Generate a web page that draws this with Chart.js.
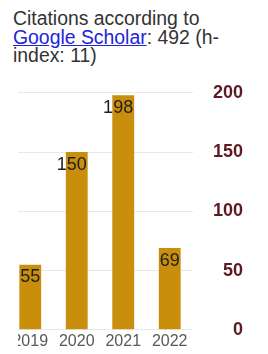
<!DOCTYPE html>
<html><head><meta charset="utf-8">
<script src="https://cdn.jsdelivr.net/npm/chart.js@4.4.0/dist/chart.umd.min.js"></script>
<style>
html,body{margin:0;padding:0;background:#fff;width:268px;height:354px;overflow:hidden;}
#title{position:absolute;left:13px;top:9px;font-family:"Liberation Sans",Arial,sans-serif;font-size:19.4px;line-height:18.5px;color:#333;white-space:nowrap;}
#title a{color:#2323d8;text-decoration:underline;}
#clip{position:absolute;left:18px;top:0;width:250px;height:354px;overflow:hidden;}
#wrap{position:absolute;left:-11px;top:72px;width:236px;height:281px;}
</style></head>
<body>
<div id="title">Citations according to<br><a href="#">Google Scholar</a>: 492 (h-<br>index: 11)</div>
<div id="clip"><div id="wrap"><canvas id="c"></canvas></div></div>
<script>
const years = ["2019", "2020", "2021", "2022"];
const citations = [55, 150, 198, 69];
const yTicks = [0, 50, 100, 150, 200];

const barLabels = {
  id: 'barLabels',
  afterDatasetsDraw(chart) {
    const ctx = chart.ctx;
    const meta = chart.getDatasetMeta(0);
    ctx.save();
    ctx.font = '18px "Liberation Sans", Arial, sans-serif';
    ctx.fillStyle = '#1e1e1e';
    ctx.textAlign = 'right';
    ctx.textBaseline = 'alphabetic';
    meta.data.forEach((bar, i) => {
      ctx.fillText(String(citations[i]), bar.x + bar.width / 2 - 1, bar.y + 17.5);
    });
    ctx.restore();
  }
};

new Chart(document.getElementById('c'), {
  type: 'bar',
  data: {
    labels: years,
    datasets: [{
      data: citations,
      backgroundColor: '#c98f0c',
      barPercentage: 0.47,
      categoryPercentage: 1.0
    }]
  },
  options: {
    responsive: true,
    maintainAspectRatio: false,
    animation: false,
    layout: { padding: 0 },
    plugins: { legend: { display: false }, tooltip: { enabled: false } },
    scales: {
      x: {
        grid: { display: false, drawTicks: false },
        border: { display: false },
        ticks: {
          color: '#595959',
          font: { family: '"Liberation Sans", Arial, sans-serif', size: 16 },
          padding: 2,
          maxRotation: 0,
          autoSkip: false
        }
      },
      y: {
        position: 'right',
        min: yTicks[0],
        max: yTicks[yTicks.length - 1],
        afterBuildTicks(scale) { scale.ticks = yTicks.map(v => ({ value: v })); },
        grid: { color: '#e9e9e9', lineWidth: 1, drawTicks: false },
        border: { display: false },
        ticks: {
          color: '#5e1a22',
          crossAlign: 'far',
          padding: 10,
          font: { family: '"Liberation Sans", Arial, sans-serif', size: 18, weight: 'bold' }
        }
      }
    }
  },
  plugins: [barLabels]
});
</script>
</body></html>
